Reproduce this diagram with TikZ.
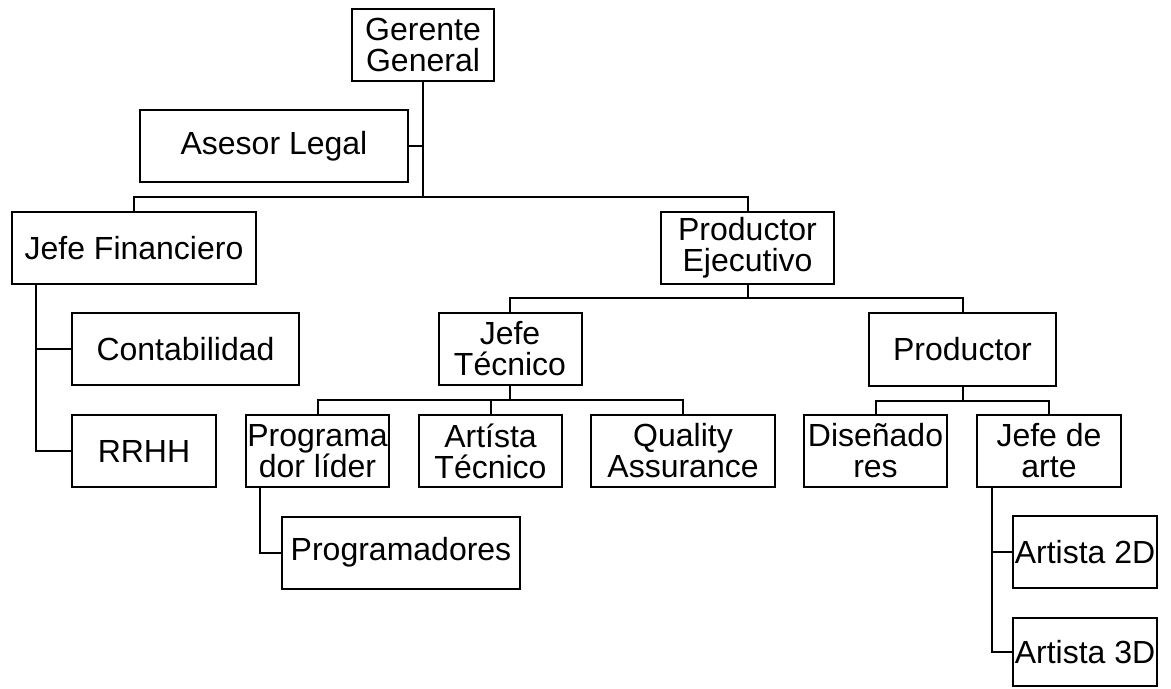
\documentclass[tikz,border=0pt]{standalone}
\usepackage{fontspec}
\setmainfont{Liberation Sans}
\begin{document}
\begin{tikzpicture}[x=.5pt, y=-.5pt, line width=1pt, line join=miter,
  font=\fontsize{16}{15.5}\selectfont,
  cargo/.style={draw, align=center, inner sep=0pt, minimum height=36pt}]
\useasboundingbox (0,0) rectangle (1171,689);
% cajas
\node[cargo, minimum width=71pt] (gg) at (423,45) {Gerente\\General};
\node[cargo, minimum width=134pt] (al) at (274,146.5) {Asesor Legal};
\node[cargo, minimum width=122pt] (jf) at (134,248.5) {Jefe Financiero};
\node[cargo, minimum width=86.5pt] (pe) at (747.5,248) {Productor\\Ejecutivo};
\node[cargo, minimum width=113.5pt] (co) at (185.5,349) {Contabilidad};
\node[cargo, minimum width=71.5pt] (jt) at (510,349) {Jefe\\Técnico};
\node[cargo, minimum width=93.5pt] (pr) at (962.5,349.5) {Productor};
\node[cargo, minimum width=72pt] (rh) at (144,451) {RRHH};
\node[cargo, minimum width=71.5pt] (pl) at (317.5,451) {Programa\\dor líder};
\node[cargo, minimum width=71.5pt] (at) at (490.5,451) {Artísta\\Técnico};
\node[cargo, minimum width=92pt] (qa) at (683,451) {Quality\\Assurance};
\node[cargo, minimum width=71.5pt] (di) at (875.5,451) {Diseñado\\res};
\node[cargo, minimum width=72pt] (ja) at (1049,451) {Jefe de\\arte};
\node[cargo, minimum width=119pt] (pg) at (401,552.5) {Programadores};
\node[cargo, minimum width=72pt] (a2) at (1085,552) {Artista 2D};
\node[cargo, minimum width=72pt, minimum height=34pt] (a3) at (1085,652) {Artista 3D};
\path (36,284)coordinate(jfd) (260,487)coordinate(pld) (992,487)coordinate(jad);
% lineas
\draw (gg.south)--(gg.south|-0,197) (al.east)--(al.east-|gg.south);
\draw (jf.north)|-(pe.north|-0,197)--(pe.north);
\draw (pe.south)--(pe.south|-0,298) (jt.north)|-(pr.north|-0,298)--(pr.north);
\draw (jt.south)--(jt.south|-0,400) (pl.north)|-(qa.north|-0,400)--(qa.north) (at.north)--(at.north|-0,400);
\draw (pr.south)--(pr.south|-0,401) (di.north)|-(ja.north|-0,401)--(ja.north);
\draw (jfd)|-(rh.west) (co.west)--(co.west-|jfd);
\draw (pld)|-(pg.west);
\draw (jad)|-(a3.west) (a2.west)--(a2.west-|jad);
\end{tikzpicture}
\end{document}
